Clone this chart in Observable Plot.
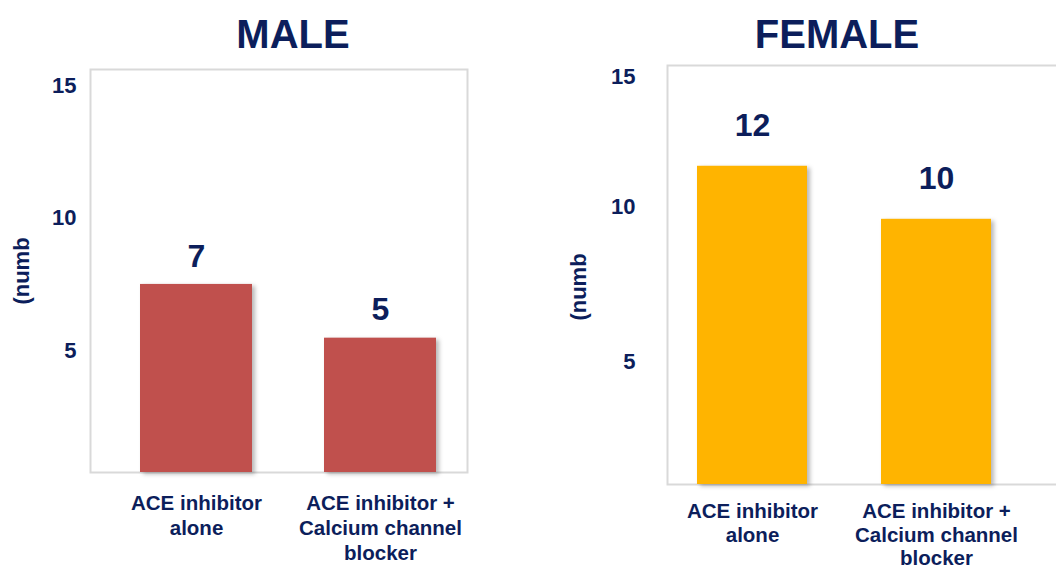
<!DOCTYPE html>
<html><head><meta charset="utf-8">
<script src="https://cdn.jsdelivr.net/npm/d3@7"></script>
<script src="https://cdn.jsdelivr.net/npm/@observablehq/plot@0.6"></script>
<style>
html,body{margin:0;padding:0;background:#fff;overflow:hidden;}
#wrap{position:relative;width:1056px;height:569px;overflow:hidden;font-family:"Liberation Sans",Arial,sans-serif;}
.panel{position:absolute;top:0;}
.panel svg{max-width:none !important;}
.title{position:absolute;top:14px;font-weight:bold;font-size:40px;line-height:40px;color:#0c1e5b;transform:translateX(-50%);white-space:nowrap;}
g[aria-label="bar"] rect{filter:drop-shadow(3px 2px 2px rgba(0,0,0,0.28));}
.female g[aria-label="y-axis label"]{translate:0 12px;}
</style></head>
<body><div id="wrap"></div>
<script>
const categories = ["ACE inhibitor\nalone", "ACE inhibitor +\nCalcium channel\nblocker"];
const maleValues = [7, 5];
const femaleValues = [12, 10];
const yTicks = [5, 10, 15];
const panelTitles = ["MALE", "FEMALE"];
const yLabel = "(numb";

const navy = "#0c1e5b";
const font = "Liberation Sans, Arial, sans-serif";
const wrap = document.getElementById("wrap");

function panel(cfg) {
  const data = categories.map((c, i) => ({category: c, value: cfg.values[i]}));
  const yAxes = yTicks.map((t, i) => Plot.axisY({ticks: [t], tickSize: 0, tickPadding: cfg.tickPad,
    dy: cfg.tickDy[i], fontSize: 22, fontWeight: "bold", color: navy,
    label: i === 0 ? yLabel : null, labelAnchor: "center", labelArrow: "none", labelOffset: cfg.labelOffset}));
  const plot = Plot.plot({
    className: cfg.cls,
    width: cfg.width,
    height: 569,
    marginTop: cfg.mt,
    marginBottom: cfg.mb,
    marginLeft: cfg.ml,
    marginRight: cfg.mr,
    style: {fontFamily: font, background: "transparent", overflow: "visible", maxWidth: "none"},
    x: {domain: categories, range: cfg.xRange, paddingInner: cfg.pad, paddingOuter: cfg.pad / 2},
    y: {domain: cfg.yDomain},
    marks: [
      Plot.frame({stroke: "#d9d9d9", strokeWidth: 2}),
      Plot.barY(data, {x: "category", y: "value", fill: cfg.color}),
      Plot.text(data, {x: "category", y: "value", text: d => String(d.value), dy: cfg.labelDy,
        fontSize: 32, fontWeight: "bold", fill: navy}),
      ...yAxes,
      Plot.axisX({tickSize: 0, tickPadding: cfg.xPad, fontSize: 20.5, fontWeight: "bold",
        lineHeight: cfg.lh, color: navy, label: null})
    ]
  });
  const div = document.createElement("div");
  div.className = "panel " + cfg.cls;
  div.style.left = cfg.left + "px";
  div.style.width = cfg.width + "px";
  div.appendChild(plot);
  wrap.appendChild(div);
  const t = document.createElement("div");
  t.className = "title";
  t.style.left = cfg.titleX + "px";
  t.textContent = cfg.title;
  wrap.appendChild(t);
}

panel({cls: "male", values: maleValues, title: panelTitles[0], left: 0, width: 528, mt: 69, mb: 97, ml: 90, mr: 61,
  xRange: [103.25, 472.25], pad: 0.39, yDomain: [0, 15], color: "#C0504D",
  labelDy: -28, tickPad: 14, tickDy: [12.3, 13.7, 16], labelOffset: 77, titleX: 293,
  xPad: 20, lh: 1.22});
panel({cls: "female", values: femaleValues, title: panelTitles[1], left: 528, width: 540, mt: 65, mb: 85, ml: 139, mr: 0,
  xRange: [131.25, 500.25], pad: 0.4, yDomain: [0, 15.8], color: "#FFB400",
  labelDy: -41, tickPad: 32, tickDy: [10.5, -12, -9.5], labelOffset: 97, titleX: 837,
  xPad: 17, lh: 1.15});
</script>
</body></html>
